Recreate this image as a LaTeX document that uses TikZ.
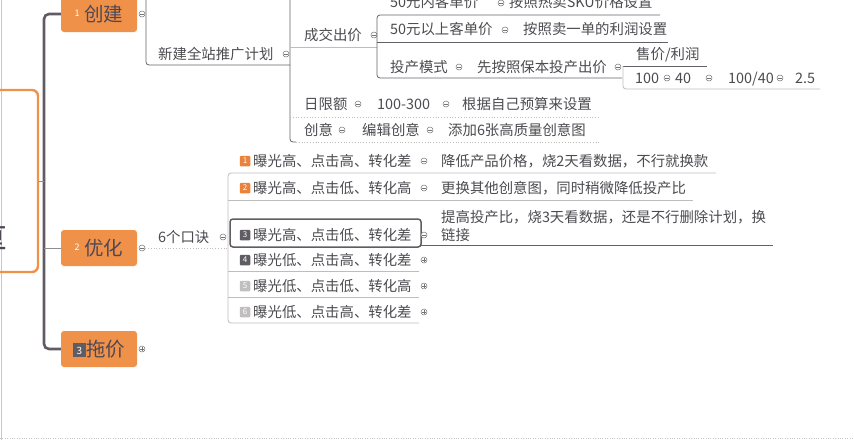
\documentclass[tikz,border=0pt]{standalone}
\usepackage{fontspec}
\setmainfont{Noto Sans CJK SC}
\usetikzlibrary{positioning}

\definecolor{mmorange}{RGB}{240,145,74}
\definecolor{topictext}{RGB}{78,72,84}
\definecolor{trunkgray}{RGB}{96,91,100}
\definecolor{itemtext}{RGB}{75,75,80}
\definecolor{ulinedark}{RGB}{100,97,104}
\definecolor{ulinelight}{RGB}{192,188,188}
\definecolor{foldgray}{RGB}{115,115,118}
\definecolor{boxorange}{RGB}{234,130,60}
\definecolor{boxdark}{RGB}{95,92,100}
\definecolor{boxlight}{RGB}{192,190,190}
\definecolor{framegray}{RGB}{200,200,200}

\newcommand\numbox[2]{\raisebox{1.5pt}{\setlength\fboxsep{1.5pt}\colorbox{#1}{\makebox[10pt]{\rule[-1pt]{0pt}{11pt}\color{white}\fontsize{10}{10}\selectfont #2}}}}
\newcommand\topicnum[1]{\raisebox{5pt}{\textcolor{white}{\fontsize{9}{9}\selectfont #1}}}

\begin{document}
\begin{tikzpicture}[
  x=1pt, y=-1pt,
  topic/.style={fill=mmorange, rounded corners=3pt, minimum width=76pt,
                minimum height=36pt, inner sep=0pt, text=topictext,
                font=\fontsize{19.5}{20}\selectfont},
  item/.style={anchor=west, inner sep=0pt, text=itemtext, text height=12pt,
               text depth=2pt, font=\fontsize{14.4}{18}\selectfont},
  badge/.style={inner sep=0pt, minimum size=10.5pt, rounded corners=1pt,
                text=white, font=\fontsize{8}{8}\selectfont},
  fold/.style={circle, draw=foldgray, line width=0.5pt, fill=white,
               inner sep=0pt, minimum size=6pt,
               path picture={\draw[foldgray, line width=0.5pt]
                 ([xshift=1.3pt]path picture bounding box.west) --
                 ([xshift=-1.3pt]path picture bounding box.east);}},
  foldplus/.style={circle, draw=foldgray, line width=0.5pt, fill=white,
               inner sep=0pt, minimum size=6pt,
               path picture={\draw[foldgray, line width=0.5pt]
                 ([xshift=1.3pt]path picture bounding box.west) --
                 ([xshift=-1.3pt]path picture bounding box.east)
                 ([yshift=-1.3pt]path picture bounding box.north) --
                 ([yshift=1.3pt]path picture bounding box.south);}},
  trunk/.style={draw=trunkgray, line width=2.6pt, rounded corners=5pt},
  twig/.style={draw=trunkgray!70, line width=0.8pt},
  uline/.style={draw=ulinedark, line width=0.8pt, rounded corners=3pt},
  ulight/.style={draw=ulinelight, line width=0.8pt, rounded corners=3pt},
  udot/.style={draw=ulinelight, line width=0.8pt, dotted},
]
\useasboundingbox (0,0) rectangle (854,440);
\draw[framegray, line width=1pt] (1,0) -- (1,440);
\draw[framegray, dotted] (0,438.5) -- (854,438.5);

% root and main topics
\node[draw=mmorange, line width=2.4pt, rounded corners=6pt, minimum width=100pt,
      minimum height=182pt] (root) at (-12,181) {};
\node[text=topictext, font=\fontsize{40}{40}\selectfont] (rootlbl) at (-12,232) {量};

\node[topic] (chuangjian) at (99,14) {\topicnum{1}\hspace{5pt}创建};
\node[topic] (youhua) at (99,248) {\topicnum{2}\hspace{5pt}优化};
\node[topic] (tuojia) at (99,349) {\numbox{boxdark}{3}拖价};

\coordinate (spine) at (44,181);
\draw[trunk] (chuangjian.west) -| (spine) |- (tuojia.west);
\draw[twig] (root.east) -- (spine);
\draw[twig] (spine |- youhua.west) -- (youhua.west);

\node[fold] (f-cj) at (142,14) {};
\node[fold] (f-yh) at (142,248) {};
\node[foldplus] (f-tj) at (142,349) {};

% 创建
\coordinate (cj-top) at (146,-5);
\coordinate (cj-end) at (290,65);
\draw[uline] (cj-top) |- (cj-end);
\node[item] (xinjian) at (158,54) {新建全站推广计划};
\node[fold] (f-xj) at (286,54) {};

\coordinate (xj-top) at (290,-5);
\coordinate (xj-bot) at (290,142);
\draw[uline] (xj-top) -- (xj-bot) -- ++(6,0);
\draw[udot] ([xshift=6pt]xj-bot) -- (600,142);
\draw[ulight] (290,47) -- (377,47);
\draw[udot] (290,117) -- (600,117);

\node[item] (chengjiao) at (304,35) {成交出价};
\node[fold] (f-cc) at (374,35) {};

\coordinate (cc-a) at (660,15);
\coordinate (cc-b) at (377,78);
\coordinate (cc-c) at (622,78);
\draw[uline] (cc-a) -| (cc-b) -- (cc-c);
\draw[uline] (377,42) -- (668,42);

\node[item] (kd1) at (390,2) {50元内客单价};
\node[fold] (f-kd1) at (501,3) {};
\node[item] (kd1r) at (509,2) {按照热卖SKU价格设置};
\node[item] (kd2) at (390,29) {50元以上客单价};
\node[fold] (f-kd2) at (505,30) {};
\node[item] (kd2r) at (523,29) {按照卖一单的利润设置};
\node[item] (tc) at (390,67) {投产模式};
\node[fold] (f-tc) at (459,67) {};
\node[item] (tcr) at (477,67) {先按照保本投产出价};
\node[fold] (f-tcr) at (618,67) {};

\coordinate (sj-a) at (707,66);
\coordinate (sj-b) at (623,89);
\coordinate (sj-c) at (820,89);
\draw[uline] (sj-a) -- (623,66);
\draw[ulight] (623,66) -- (sj-b) -- (sj-c);
\node[item] (shoujia) at (636,54) {售价/利润};
\node[item] (v100) at (635,78) {100};
\node[fold] (f-v100) at (667,78) {};
\node[item] (v40) at (675,78) {40};
\node[fold] (f-v40) at (709,78) {};
\node[item] (vq) at (728,78) {100/40};
\node[fold] (f-vq) at (780,78) {};
\node[item] (vr) at (795,78) {2.5};

\node[item] (xiane) at (304,104) {日限额};
\node[fold] (f-xe) at (358,104) {};
\node[item] (xev) at (377,104) {100-300};
\node[fold] (f-xev) at (446,104) {};
\node[item] (xer) at (462,104) {根据自己预算来设置};

\node[item] (chuangyi) at (304,130) {创意};
\node[fold] (f-cy) at (342,130) {};
\node[item] (cyv) at (362,130) {编辑创意};
\node[fold] (f-cyv) at (430,130) {};
\node[item] (cyr) at (448,130) {添加6张高质量创意图};

% 优化
\draw[udot] (f-yh.east) -- (228,248);
\node[item] (koujue) at (158,237) {6个口诀};
\node[fold] (f-kj) at (223,237) {};

\coordinate (kj-a) at (716,173);
\coordinate (kj-b) at (228,323);
\coordinate (kj-c) at (419,323);
\draw[ulight] (kj-a) -| (kj-b) -- (kj-c);
\draw[ulight] (228,200) -- (693,200);
\draw[uline] (421,245) -- (773,245);
\draw[ulight] (228,271) -- (419,271);
\draw[ulight] (228,297) -- (419,297);

\node[draw=boxdark, line width=1.5pt, rounded corners=3pt, minimum width=191pt,
      minimum height=28pt] (sel) at (325.5,233) {};

\node[badge, fill=boxorange] (b1) at (245,161) {1};
\node[item] (k1) at (253,161) {曝光高、点击高、转化差};
\node[fold] (f-k1) at (424,161) {};
\node[item] (k1r) at (441,161) {降低产品价格，烧2天看数据，不行就换款};

\node[badge, fill=boxorange] (b2) at (245,188) {2};
\node[item] (k2) at (253,188) {曝光高、点击低、转化高};
\node[fold] (f-k2) at (424,188) {};
\node[item] (k2r) at (441,188) {更换其他创意图，同时稍微降低投产比};

\node[badge, fill=boxdark] (b3) at (245,235) {3};
\node[item] (k3) at (253,235) {曝光高、点击低、转化差};
\node[fold] (f-k3) at (424,235) {};
\node[item, align=left, text height=, text depth=] (k3r) at (441,226)
  {提高投产比，烧3天看数据，还是不行删除计划，换\\链接};

\node[badge, fill=boxdark] (b4) at (245,260) {4};
\node[item] (k4) at (253,260) {曝光低、点击高、转化差};
\node[foldplus] (f-k4) at (424,260) {};

\node[badge, fill=boxlight] (b5) at (245,286) {5};
\node[item] (k5) at (253,286) {曝光低、点击低、转化高};
\node[foldplus] (f-k5) at (424,286) {};

\node[badge, fill=boxlight] (b6) at (245,312) {6};
\node[item] (k6) at (253,312) {曝光低、点击高、转化差};
\node[foldplus] (f-k6) at (424,312) {};
\end{tikzpicture}
\end{document}
